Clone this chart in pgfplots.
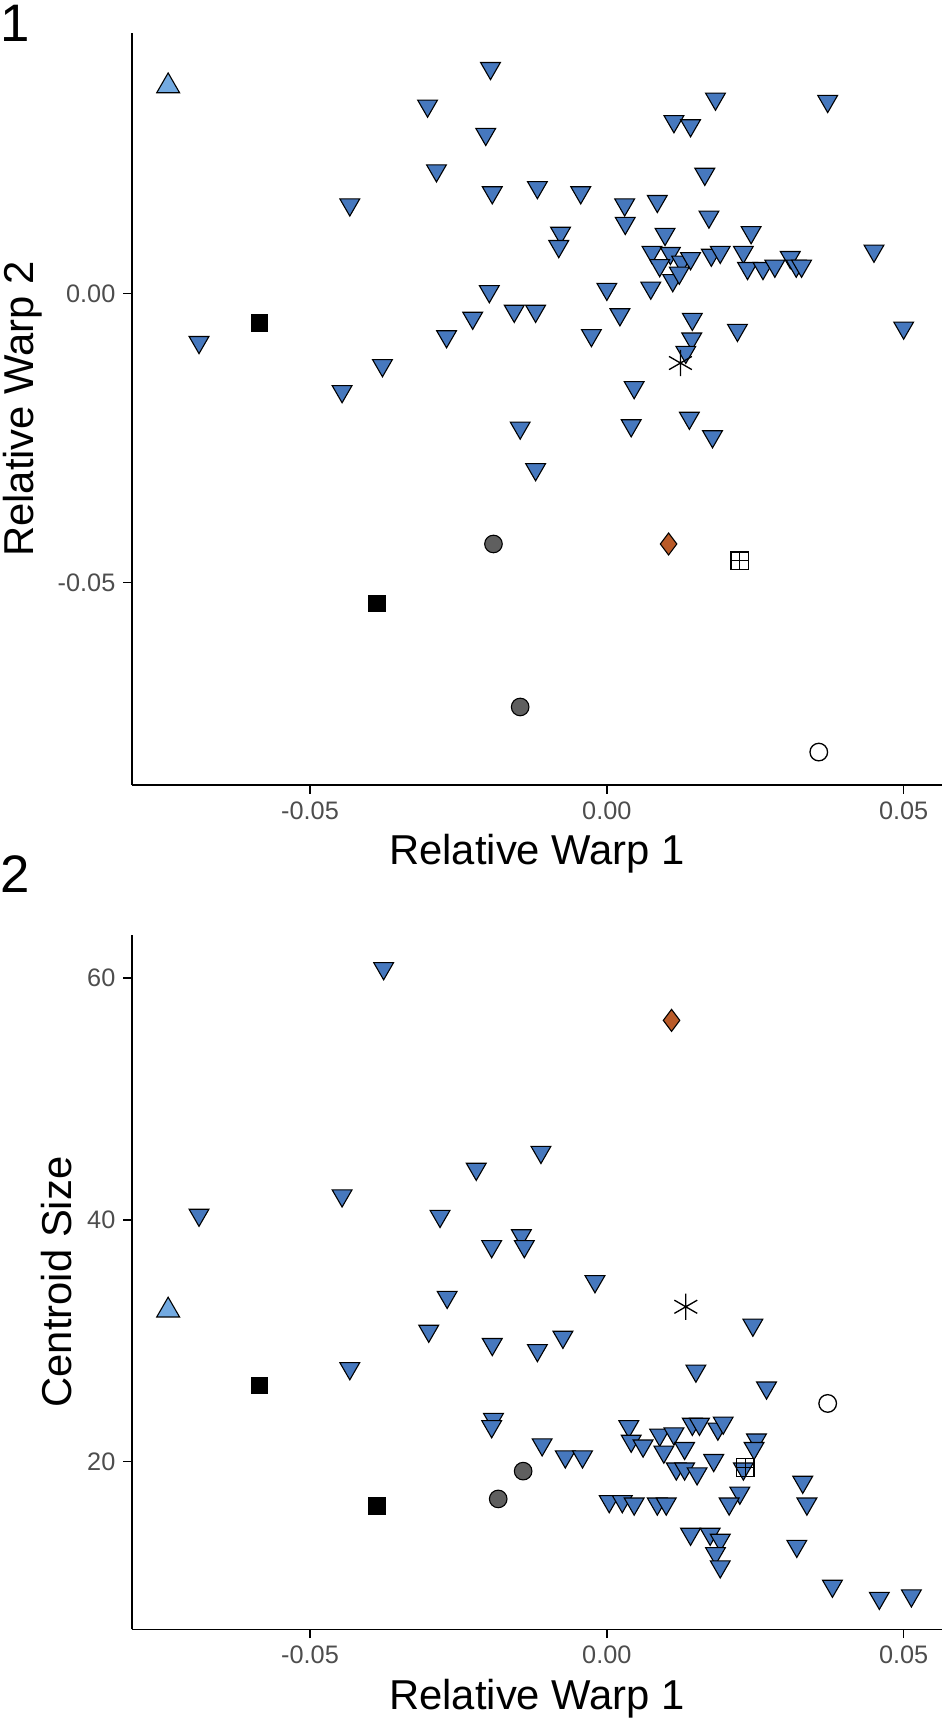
\documentclass[border=0pt]{standalone}
\usepackage{pgfplots}
\pgfplotsset{compat=1.18}
\usepackage{fontspec}
\setmainfont{Liberation Sans}
\definecolor{tblue}{RGB}{70,120,190}
\definecolor{lblue}{RGB}{115,170,225}
\definecolor{dorange}{RGB}{185,90,40}
\definecolor{dgray}{RGB}{95,95,95}
\definecolor{tickgray}{RGB}{77,77,77}
\pgfplotsset{
  myax/.style={scale only axis, width=368.5pt, axis lines*=left, axis line style={-,black,line width=0.7pt},
    tick align=outside, tick style={black,line width=0.7pt}, major tick length=4pt,
    scaled ticks=false,
    ticklabel style={font=\fontsize{11.5}{13}\selectfont, text=tickgray},
    label style={font=\fontsize{19}{22}\selectfont},
    /pgf/number format/assume math mode=true,
    xmin=-0.0800, xmax=0.0565, xtick={-0.05,0,0.05},
    xticklabels={-0.05,0.00,0.05}, clip=false},
  tri/.style={only marks, mark=triangle*, mark size=5.2pt, mark options={rotate=180, fill=tblue, draw=black, line width=0.5pt}},
}
\begin{document}
\begin{tikzpicture}[x=1pt,y=1pt]
\useasboundingbox (0,0) rectangle (432,784);
\node[anchor=north west, font=\fontsize{24}{28}\selectfont, inner sep=0pt] at (0,782) {1};
\node[anchor=north west, font=\fontsize{24}{28}\selectfont, inner sep=0pt] at (0,395) {2};
\begin{axis}[myax, at={(60pt,427pt)}, anchor=south west, height=342pt,
  ymin=-0.0850, ymax=0.0451, ytick={-0.05,0}, yticklabels={-0.05,0.00},
  xlabel={Relative Warp 1}, ylabel={Relative Warp 2}]
\addplot[tri] coordinates {
(-0.0196,0.0390)(-0.0302,0.0325)(-0.0204,0.0276)(0.0113,0.0298)(0.0141,0.0291)(0.0183,0.0337)(0.0372,0.0333)
(-0.0287,0.0213)(0.0165,0.0207)(-0.0433,0.0154)(-0.0193,0.0175)(-0.0117,0.0184)(-0.0044,0.0175)(0.0030,0.0154)
(0.0085,0.0160)(-0.0078,0.0105)(-0.0081,0.0082)(0.0031,0.0122)(0.0098,0.0103)(0.0172,0.0133)(0.0243,0.0106)
(0.0076,0.0072)(0.0107,0.0070)(0.0126,0.0055)(0.0141,0.0061)(0.0176,0.0067)(0.0191,0.0072)(0.0230,0.0072)
(0.0309,0.0063)(0.0319,0.0048)(0.0328,0.0048)(0.0450,0.0074)(0.0237,0.0044)(0.0263,0.0044)(0.0283,0.0048)
(0.0089,0.0049)(0.0074,0.0010)(0.0111,0.0023)(0.0122,0.0036)(0.0000,0.0008)(-0.0198,0.0004)(-0.0226,-0.0042)
(-0.0270,-0.0074)(-0.0156,-0.0030)(-0.0120,-0.0030)(-0.0026,-0.0072)(0.0022,-0.0036)(0.0144,-0.0044)
(0.0220,-0.0063)(0.0500,-0.0059)(0.0143,-0.0078)(0.0133,-0.0101)(-0.0687,-0.0084)(-0.0378,-0.0124)
(-0.0446,-0.0169)(0.0046,-0.0162)(0.0041,-0.0228)(0.0139,-0.0215)(0.0178,-0.0247)(-0.0146,-0.0232)(-0.0120,-0.0304)};
\addplot[only marks, mark=triangle*, mark size=6pt, mark options={fill=lblue,draw=black,line width=0.5pt}] coordinates {(-0.0739,0.0359)};
\addplot[only marks, mark=square*, mark size=3.8pt, mark options={fill=black,draw=black}] coordinates {(-0.0585,-0.0051)(-0.0387,-0.0536)};
\addplot[only marks, mark=*, mark size=4pt, mark options={fill=dgray,draw=black,line width=0.5pt}] coordinates {(-0.0191,-0.0433)(-0.0146,-0.0715)};
\addplot[only marks, mark=diamond*, mark size=5pt, mark options={fill=dorange,draw=black,line width=0.5pt}] coordinates {(0.0104,-0.0433)};
\addplot[only marks, mark=square, mark size=4pt, mark options={draw=black,line width=0.6pt}] coordinates {(0.0224,-0.0462)};
\addplot[only marks, mark=+, mark size=4pt, mark options={draw=black,line width=0.6pt}] coordinates {(0.0224,-0.0462)};
\addplot[only marks, mark=o, mark size=4pt, mark options={draw=black,line width=0.6pt}] coordinates {(0.0357,-0.0793)};
\addplot[only marks, mark=asterisk, mark size=6pt, mark options={draw=black,line width=0.6pt}] coordinates {(0.0124,-0.0120)};
\end{axis}
\begin{axis}[myax, at={(60pt,43pt)}, anchor=south west, height=316pt,
  ymin=6.1, ymax=63.6, ytick={20,40,60},
  xlabel={Relative Warp 1}, ylabel={Centroid Size}]
\addplot[tri] coordinates {
(-0.0376,60.8)(-0.0111,45.6)(-0.0220,44.2)(-0.0446,42.0)(-0.0687,40.4)(-0.0281,40.3)
(-0.0194,37.8)(-0.0144,38.7)(-0.0139,37.8)(-0.0020,34.9)(-0.0269,33.6)(-0.0300,30.8)(-0.0433,27.7)
(-0.0193,29.7)(-0.0117,29.2)(-0.0074,30.3)(0.0150,27.5)(0.0246,31.3)(0.0269,26.1)(-0.0191,23.5)
(-0.0194,22.9)(-0.0109,21.4)(-0.0070,20.4)(-0.0041,20.4)(0.0037,22.9)(0.0041,21.7)(0.0061,21.3)
(0.0089,22.2)(0.0096,20.8)(0.0113,22.3)(0.0131,21.1)(0.0144,23.1)(0.0156,23.1)(0.0187,22.7)
(0.0196,23.2)(0.0180,20.1)(0.0252,21.8)(0.0248,21.1)(0.0230,19.4)(0.0117,19.4)(0.0131,19.4)
(0.0152,19.0)(0.0004,16.7)(0.0026,16.7)(0.0046,16.5)(0.0085,16.5)(0.0100,16.5)(0.0224,17.4)
(0.0206,16.5)(0.0330,18.3)(0.0337,16.5)(0.0141,14.0)(0.0174,14.0)(0.0191,13.5)(0.0183,12.4)
(0.0191,11.3)(0.0320,13.0)(0.0380,9.7)(0.0459,8.7)(0.0513,8.9)};
\addplot[only marks, mark=triangle*, mark size=6pt, mark options={fill=lblue,draw=black,line width=0.5pt}] coordinates {(-0.0739,32.5)};
\addplot[only marks, mark=square*, mark size=3.8pt, mark options={fill=black,draw=black}] coordinates {(-0.0585,26.3)(-0.0387,16.3)};
\addplot[only marks, mark=*, mark size=4pt, mark options={fill=dgray,draw=black,line width=0.5pt}] coordinates {(-0.0183,16.9)(-0.0141,19.2)};
\addplot[only marks, mark=diamond*, mark size=5pt, mark options={fill=dorange,draw=black,line width=0.5pt}] coordinates {(0.0109,56.5)};
\addplot[only marks, mark=square, mark size=4pt, mark options={draw=black,line width=0.6pt}] coordinates {(0.0233,19.5)};
\addplot[only marks, mark=+, mark size=4pt, mark options={draw=black,line width=0.6pt}] coordinates {(0.0233,19.5)};
\addplot[only marks, mark=o, mark size=4pt, mark options={draw=black,line width=0.6pt}] coordinates {(0.0372,24.8)};
\addplot[only marks, mark=asterisk, mark size=6pt, mark options={draw=black,line width=0.6pt}] coordinates {(0.0133,32.8)};
\end{axis}
\end{tikzpicture}
\end{document}
